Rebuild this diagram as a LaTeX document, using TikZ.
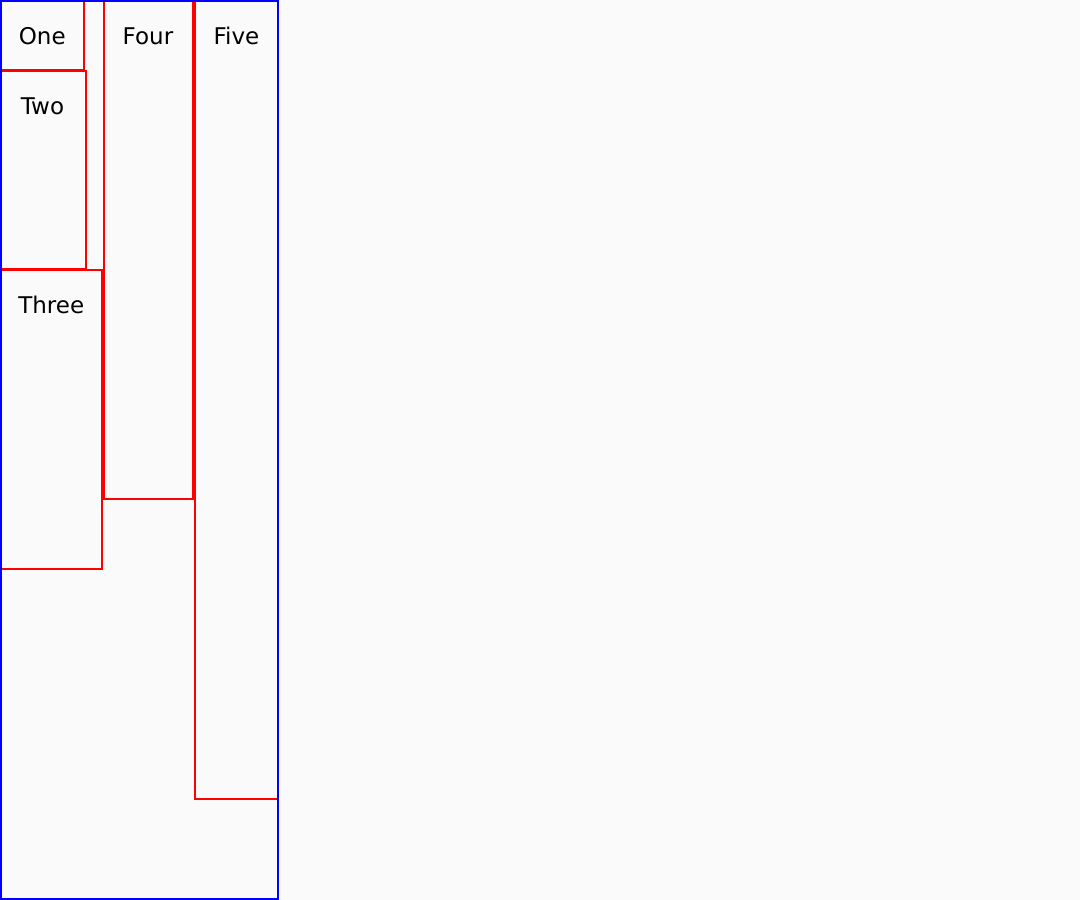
\documentclass[tikz,border=0pt]{standalone}
\usepackage{fontspec}
\setmainfont{DejaVu Sans}
\definecolor{bgc}{HTML}{FAFAFA}
\begin{document}
\begin{tikzpicture}[x=1pt,y=-1pt,
  redbox/.style={draw=red, line width=2pt},
  outerbox/.style={draw=blue, line width=2pt},
  lab/.style={anchor=base, inner sep=0pt, font=\fontsize{23}{27}\selectfont}]
\fill[bgc] (0,0) rectangle (1080,900);
\useasboundingbox (0,0) rectangle (1080,900);
% red boxes
\draw[redbox] (0,0) rectangle (84,69.5);
\draw[redbox] (0,71) rectangle (85.5,268.5);
\draw[redbox] (0,270) rectangle (102,569);
\draw[redbox] (104,0) rectangle (193,498.5);
\draw[redbox] (195,0) rectangle (278,799);
% outer container
\draw[outerbox] (1,1) rectangle (277.5,898.5);
% labels
\node[lab] (one) at (42.3,44) {One};
\node[lab] (two) at (42.5,114) {Two};
\node[lab] (three) at (51.3,313) {Three};
\node[lab] (four) at (148,44) {Four};
\node[lab] (five) at (236.5,44) {Five};
\end{tikzpicture}
\end{document}
